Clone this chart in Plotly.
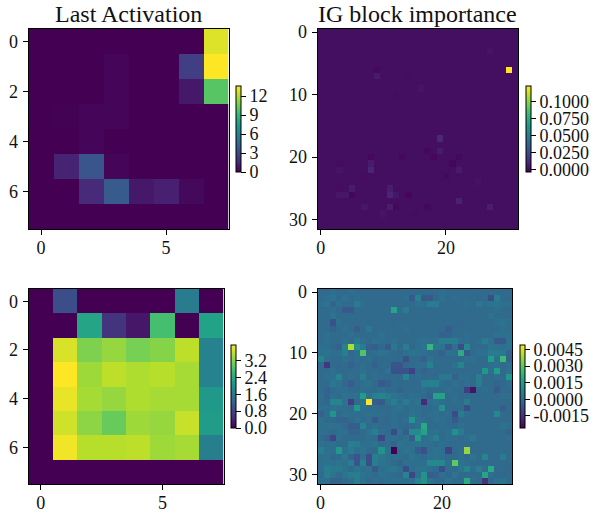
import numpy as np
import plotly.graph_objects as go

W, H = 592, 515

LAST_ACTIVATION = [
    [0, 0, 0, 0, 0, 0, 0, 12.9],
    [0, 0, 0, 0.2, 0, 0, 2.5, 13.6],
    [0, 0, 0, 0.2, 0, 0, 0.9, 10.0],
    [0, 0.05, 0.2, 0.2, 0, 0, 0, 0],
    [0, 0, 0.2, 0, 0, 0, 0, 0],
    [0, 1.3, 3.6, 0.2, 0, 0, 0, 0],
    [0, 0, 1.6, 3.9, 0.9, 1.2, 0.3, 0],
    [0, 0, 0, 0, 0, 0, 0, 0],
]

SECOND_ACTIVATION = [
    [0, 0.95, 0, 0, 0, 0, 1.65, 0],
    [0, 0, 2.3, 0.6, 0.25, 2.75, 0, 2.25],
    [0, 3.7, 3.15, 3.3, 3.1, 3.2, 3.55, 1.75],
    [0, 3.93, 3.35, 3.55, 3.45, 3.5, 3.4, 1.75],
    [0, 3.8, 3.4, 3.3, 3.45, 3.4, 3.4, 2.1],
    [0, 3.65, 3.25, 3.0, 3.35, 3.3, 3.6, 2.15],
    [0, 3.85, 3.5, 3.5, 3.55, 3.35, 3.4, 1.7],
    [0, 0, 0, 0, 0, 0, 0, 0],
]

# IG block importance, background level and readable cells (row, col, value)
IG_BACKGROUND = 0.002
IG_CELLS = [
    (6, 30, 0.1235), (6, 9, 0.0), (7, 9, 0.006), (9, 16, 0.004), (10, 12, 0.0005),
    (17, 19, 0.011), (19, 19, 0.006), (19, 17, 0.0), (20, 8, 0.0), (20, 13, 0.0),
    (20, 22, 0.0), (20, 18, 0.0), (21, 21, -0.001), (22, 22, 0.006), (21, 8, 0.006),
    (22, 8, 0.01), (23, 20, 0.0), (25, 5, 0.006), (26, 5, -0.001), (26, 3, 0.005),
    (26, 4, 0.005), (25, 11, 0.007), (26, 11, 0.01), (26, 12, 0.005), (28, 11, 0.007),
    (28, 12, 0.0), (26, 14, -0.001), (28, 17, 0.0), (27, 22, 0.009), (28, 27, 0.007),
    (28, 7, 0.005), (25, 3, 0.0005), (21, 3, 0.0005), (7, 14, 0.0005), (3, 27, 0.0035),
    (22, 3, 0.0035), (23, 7, 0.0005), (24, 25, 0.003), (29, 10, 0.0035), (29, 15, 0.0005),
]

# Lower right panel, in units of 0.0001
IG_SECOND = [
    [0, 0, 1, 0, 0, 1, 0, 0, 0, 0, 0, 0, 0, 0, 0, 0, 0, 0, 0, 0, 1, 0, 0, 0, 0, 0, 0, 0, 0, 0, 0, 0],
    [0, 1, 3, 0, 3, 0, 1, 0, 0, 0, 0, 0, 0, 0, 1, -5, 7, -5, -5, -1, 2, 0, 1, 0, 0, 0, -1, 0, -8, 6, 0, 0],
    [1, 3, -2, 1, 0, 0, 5, 1, -1, 0, 0, 0, 0, 0, 0, 0, 2, 1, 5, 5, 0, 0, 0, 0, 1, 0, 4, 1, 3, 3, 2, 1],
    [0, 0, 1, -1, -5, -5, 0, 0, 0, 0, 0, 0, 18, 1, 5, 0, 0, 0, 0, 0, 0, 0, 0, 0, 0, 0, 0, 0, 0, 1, 0, 0],
    [0, 0, 3, 0, 0, 0, 0, 0, 0, 0, 0, 0, 0, 0, 0, 0, 0, 0, 0, 0, 0, 0, 0, 0, 0, 0, 0, 0, 2, 0, 0, 0],
    [0, 0, -7, 1, 0, 0, 0, 0, -1, 0, 0, 0, -1, 0, 0, 0, 0, 0, 0, 0, 0, 0, 0, -1, 0, 0, 0, 0, 0, 1, 3, 1],
    [0, 0, -3, 0, 1, 0, -4, 0, 4, 0, 0, 0, 0, 0, 1, -1, 0, 0, 0, 0, 0, -4, 0, 0, 0, 0, 0, 0, 0, 0, 1, 1],
    [0, 1, 0, 0, 0, 1, 0, 0, 0, 0, 2, 0, 0, 0, 0, 0, 0, 0, 0, 0, -3, -2, 0, 0, 1, 0, 0, 0, 0, 2, 1, 2],
    [0, 1, 0, 0, 1, 0, 4, 1, 0, 2, 1, 0, 2, 0, 0, 0, 1, 2, 1, 2, 6, 6, 6, 1, 1, 0, 1, 5, 2, -5, -5, 3],
    [1, 1, -1, -3, 7, 40, 11, 5, -3, -4, -1, -5, 4, 0, 6, -1, 1, 3, 24, 4, 3, -5, 1, -8, 9, 0, 0, 0, 3, 2, 1, 3],
    [2, 3, 1, 1, 6, -1, 1, 28, 0, 1, 3, 1, 0, -1, 1, 3, 2, 1, 0, 0, -3, 2, 1, 20, -5, 0, 1, 2, 5, 5, 4, -2],
    [8, 1, 0, 0, 1, 0, 1, 0, 1, -1, 0, 0, 0, 0, -7, 0, 0, -3, 3, 0, 0, 0, 0, 0, 1, 1, 0, 0, 16, 2, 25, -2],
    [0, -14, 0, -1, 0, -3, 0, 1, 0, -3, 0, 0, -6, -6, -1, 0, 1, 1, 7, 0, 0, 0, 2, 8, 0, 0, 0, 0, 1, 2, 0, 1],
    [0, 0, 1, 0, 0, 0, 0, 2, 0, 0, -1, 2, -7, -7, -7, -11, 0, -2, 0, 0, 0, 0, 0, 0, 0, 0, 0, 14, 1, 16, 0, 2],
    [0, 1, 2, 8, 0, 1, 0, 6, 0, 1, 0, -1, 0, 0, 8, 0, 1, 0, 0, 0, 4, 4, -3, 1, 1, 0, 6, 0, 0, 1, 0, 14],
    [0, 0, 4, 2, -1, -4, 0, 1, 3, 0, -5, -3, 0, -1, 0, 0, 0, 6, 7, 7, 1, 0, 2, 0, 1, 0, 5, 0, 0, -2, -1, 1],
    [0, -3, 0, 1, 1, 0, 0, 1, 0, 0, 1, 0, 0, -2, 0, 0, 0, 1, -1, 0, 0, 1, 0, 0, -12, -22, 0, 1, 0, -5, 0, 0],
    [1, -2, 1, 0, 3, 1, 2, 15, 2, 7, 8, 5, 3, 1, 0, 2, 1, 0, -3, 17, 17, 0, 1, -1, 0, 0, 0, 0, 0, 0, 1, 1],
    [0, -1, 8, 8, 2, -12, 0, 2, 49, -4, -5, 3, 6, 1, 5, 1, 3, -17, 1, 3, 1, 0, 1, 0, 5, 0, 0, 0, 0, 0, 0, 0],
    [1, 1, 3, 2, 1, 0, 14, 2, 0, 1, 0, 0, 1, 3, 0, 1, 1, 0, 0, 1, 12, 0, 0, 0, -8, 0, 0, 0, 0, 0, -4, 0],
    [-3, 1, 13, 0, 2, 1, 1, 1, 2, 1, 1, 0, 1, 0, 0, 3, 1, 0, 1, 2, 0, 1, -9, 5, 1, 0, 0, 0, 0, 9, 0, 0],
    [2, 0, -1, -2, -2, 0, 2, 0, 1, -5, 0, -1, 1, 0, 1, 13, 2, 1, 0, 2, 1, 0, -5, 0, 0, 0, 0, 0, 0, 0, 0, 0],
    [1, 2, 2, 1, 0, -4, -4, 8, 0, 1, 0, 0, 1, 0, -1, 0, 2, 19, 0, 0, 1, 0, -1, 1, 0, 0, 0, 0, 0, 0, 3, 1],
    [1, 1, 0, 1, 1, -2, -2, 0, 3, 7, 1, 0, -9, 2, -4, 10, 10, 17, 1, 2, 0, 1, 12, 5, 0, 0, 0, 0, 0, 0, 0, -2],
    [0, -3, -10, 1, 0, 0, -1, 0, 1, 0, -10, 1, 1, 0, 2, -4, 15, 1, 3, 7, 0, 1, 1, 0, 1, 4, 0, 0, 0, 0, 0, 1],
    [2, 1, 1, 0, 0, 6, 5, 1, 1, 3, 0, 0, -2, 3, 1, 2, 3, 2, 1, 0, 1, 0, 0, 0, 0, 0, 0, 0, 0, 0, 0, 0],
    [6, 2, 1, 14, 2, 5, 1, 3, 0, 0, 12, 2, -26, 1, 3, 1, -4, -7, 1, 3, 1, -11, 0, 1, 37, 0, 0, 0, 0, 0, 0, 0],
    [1, 2, -1, 0, 4, -2, -6, 1, -8, 6, 4, 2, 1, 1, 0, 3, 1, 0, 2, 3, 1, 0, 0, 1, 0, 3, 0, 8, 0, 0, 5, 0],
    [1, 3, 2, 3, 1, 6, -6, 7, -8, 6, 3, 2, 0, -2, 2, 1, 1, 1, 9, 9, 9, 1, 30, 3, 1, 0, 0, 0, 0, 0, 0, 0],
    [1, 6, 4, 4, 2, 0, 3, 1, 2, -5, 1, 3, 4, 1, -8, 1, 3, 3, 1, 0, -8, 1, 0, 3, 8, 1, 6, 1, 20, 0, 0, -1],
    [0, 6, 3, 0, 3, 5, 6, 3, 1, 0, 2, 1, 0, -1, 8, -10, 1, 12, -4, -3, 1, -1, 3, 0, 0, 0, 0, 18, 1, -1, -1, 0],
    [1, 1, -3, -2, 0, 1, 6, 2, 0, 1, 0, 1, 1, 1, 1, 2, 8, 12, 3, 0, 0, 3, 0, 0, 20, 1, 0, -15, -1, 2, 3, 0],
]

TITLES = ["Last Activation", "IG block importance"]
CB_LAST = [0, 3, 6, 9, 12]
CB_LAST_TEXT = ["0", "3", "6", "9", "12"]
CB_SECOND = [0.0, 0.8, 1.6, 2.4, 3.2]
CB_SECOND_TEXT = ["0.0", "0.8", "1.6", "2.4", "3.2"]
CB_IG = [0.0, 0.025, 0.05, 0.075, 0.1]
CB_IG_TEXT = ["0.0000", "0.0250", "0.0500", "0.0750", "0.1000"]
CB_IG2 = [-0.0015, 0.0, 0.0015, 0.003, 0.0045]
CB_IG2_TEXT = ["-0.0015", "0.0000", "0.0015", "0.0030", "0.0045"]

ig = np.full((32, 32), IG_BACKGROUND)
for r, c, v in IG_CELLS:
    ig[r, c] = v
ig2 = np.array(IG_SECOND) * 1e-4

FONT = "Liberation Serif"
TICK = dict(family=FONT, size=18, color="#111")
CB_TICK = dict(family=FONT, size=18, color="#111")

# pixel boxes: x0, x1, y0, y1 (from the top), colorbar x0, y0, y1
panels = [
    (LAST_ACTIVATION, 0, 13.6, (28.5, 228.5, 29, 229), (236, 86, 172), CB_LAST, CB_LAST_TEXT, [0, 5], [0, 2, 4, 6], 8),
    (ig, -0.003, 0.1235, (317.5, 518, 29, 229), (525.5, 86, 172), CB_IG, CB_IG_TEXT, [0, 20], [0, 10, 20, 30], 32),
    (SECOND_ACTIVATION, 0, 3.93, (28.5, 223.5, 289, 484), (230.5, 345, 428), CB_SECOND, CB_SECOND_TEXT, [0, 5], [0, 2, 4, 6], 8),
    (ig2, -0.0026, 0.0049, (317.5, 512, 289, 484), (520, 345, 428), CB_IG2, CB_IG2_TEXT, [0, 20], [0, 10, 20, 30], 32),
]

fig = go.Figure()
layout = {}
for i, (z, zmin, zmax, box, cb, cbv, cbt, xt, yt, n) in enumerate(panels, start=1):
    x0, x1, y0, y1 = box
    cx, cy0, cy1 = cb
    fig.add_trace(go.Heatmap(
        z=z, zmin=zmin, zmax=zmax, colorscale="Viridis",
        xaxis=f"x{i}", yaxis=f"y{i}", hoverongaps=False,
        colorbar=dict(
            x=cx / W, xanchor="left", xpad=0,
            y=1 - cy0 / H, yanchor="top", ypad=0,
            len=cy1 - cy0, lenmode="pixels",
            thickness=5, thicknessmode="pixels",
            outlinecolor="black", outlinewidth=1,
            ticks="outside", ticklen=5, tickwidth=1, tickcolor="black",
            tickmode="array", tickvals=cbv, ticktext=cbt,
            tickfont=CB_TICK,
        ),
    ))
    suffix = "" if i == 1 else str(i)
    layout[f"xaxis{suffix}"] = dict(
        domain=[x0 / W, x1 / W], range=[-0.5, n - 0.5], anchor=f"y{i}",
        showgrid=False, zeroline=False, showline=True, mirror=True,
        linecolor="black", linewidth=1,
        ticks="outside", ticklen=5, tickwidth=1, tickcolor="black",
        tickmode="array", tickvals=xt, tickfont=TICK, ticklabelstandoff=-3,
    )
    layout[f"yaxis{suffix}"] = dict(
        domain=[1 - y1 / H, 1 - y0 / H], range=[n - 0.5, -0.5], anchor=f"x{i}",
        showgrid=False, zeroline=False, showline=True, mirror=True,
        linecolor="black", linewidth=1,
        ticks="outside", ticklen=5, tickwidth=1, tickcolor="black",
        tickmode="array", tickvals=yt, tickfont=TICK, ticklabelstandoff=1,
    )

fig.update_layout(
    width=W, height=H,
    margin=dict(l=0, r=0, t=0, b=0, autoexpand=False),
    paper_bgcolor="white", plot_bgcolor="white",
    showlegend=False,
    annotations=[
        dict(text=TITLES[0], x=128.5 / W, y=1 - 29 / H, xref="paper", yref="paper",
             xanchor="center", yanchor="bottom", showarrow=False,
             font=dict(family=FONT, size=24, color="#111")),
        dict(text=TITLES[1], x=417.5 / W, y=1 - 29 / H, xref="paper", yref="paper",
             xanchor="center", yanchor="bottom", showarrow=False,
             font=dict(family=FONT, size=24, color="#111")),
    ],
    **layout,
)

fig.write_html("out.html", post_script="document.body.style.margin='0';",
               config={"displayModeBar": False})
